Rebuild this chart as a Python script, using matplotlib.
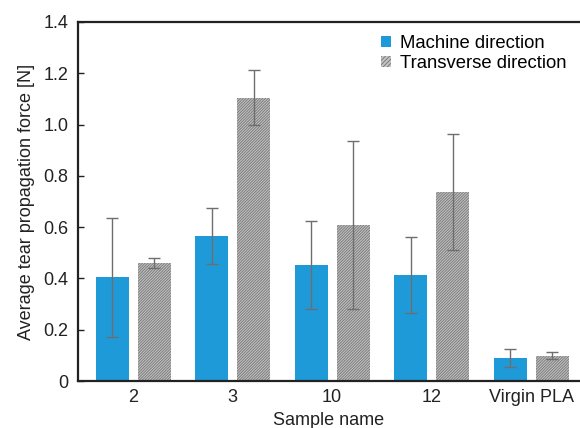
import matplotlib
matplotlib.use("Agg")
import matplotlib.pyplot as plt
import numpy as np
from matplotlib.patches import Patch

plt.rcParams['font.family'] = ['Liberation Sans', 'DejaVu Sans']
plt.rcParams['hatch.linewidth'] = 0.7

categories = ["2", "3", "10", "12", "Virgin PLA"]
machine = [0.405, 0.565, 0.452, 0.414, 0.089]
machine_err = [0.232, 0.108, 0.172, 0.147, 0.036]
transverse = [0.460, 1.105, 0.608, 0.737, 0.099]
transverse_err = [0.020, 0.106, 0.328, 0.225, 0.014]
yticks = [0.0, 0.2, 0.4, 0.6, 0.8, 1.0, 1.2, 1.4]

fig = plt.figure(figsize=(5.8, 4.28), dpi=100)
ax = fig.add_axes([78/580, 47/428, 1 - 78/580, (381-22)/428])

blue = '#1f9ad8'
hatch = '/' * 12
x = np.arange(len(categories))
w = 0.332
off = 0.211
ax.bar(x - off, machine, w, color=blue, edgecolor=blue, linewidth=0)
ax.bar(x + off, transverse, w, color='#c4c4c4', edgecolor='#7c7c7c', linewidth=0, hatch=hatch)
ekw = dict(fmt='none', ecolor='#6e6e6e', elinewidth=1.0, capsize=4, capthick=1.0)
ax.errorbar(x - off, machine, yerr=machine_err, **ekw)
ax.errorbar(x + off, transverse, yerr=transverse_err, **ekw)

handles = [Patch(facecolor=blue, edgecolor='none'),
           Patch(facecolor='#c4c4c4', edgecolor='#7c7c7c', hatch='/' * 8, linewidth=0)]
leg = ax.legend(handles, ["Machine direction", "Transverse direction"], loc='upper left',
                bbox_to_anchor=(381/580, 1 - 35/428), bbox_transform=fig.transFigure,
                frameon=False, fontsize=13.3, handlelength=0.55, handleheight=0.55,
                handletextpad=0.5, labelspacing=0.18, borderaxespad=0, borderpad=0)

ax.set_xlim(-0.553, 4.49)
ax.set_ylim(0, 1.4)
ax.set_yticks(yticks)
ax.set_yticklabels([f"{v:.1f}" if v != 0 else "0" for v in yticks])
ax.set_xticks(x)
ax.set_xticklabels(categories)
ax.tick_params(axis='y', direction='in', length=4, width=1, pad=7, labelsize=13, colors='#222222')
ax.tick_params(axis='x', length=0, pad=6, labelsize=13, colors='#222222')
for s in ['left', 'bottom', 'top']:
    ax.spines[s].set_linewidth(1.6)
    ax.spines[s].set_color('#222222')
ax.spines['right'].set_visible(False)
ax.set_xlabel("Sample name", fontsize=13, color='#222222', labelpad=4)
ax.set_ylabel("Average tear propagation force [N]", fontsize=13, color='#222222', labelpad=6)

fig.savefig("out.png", dpi=100)
